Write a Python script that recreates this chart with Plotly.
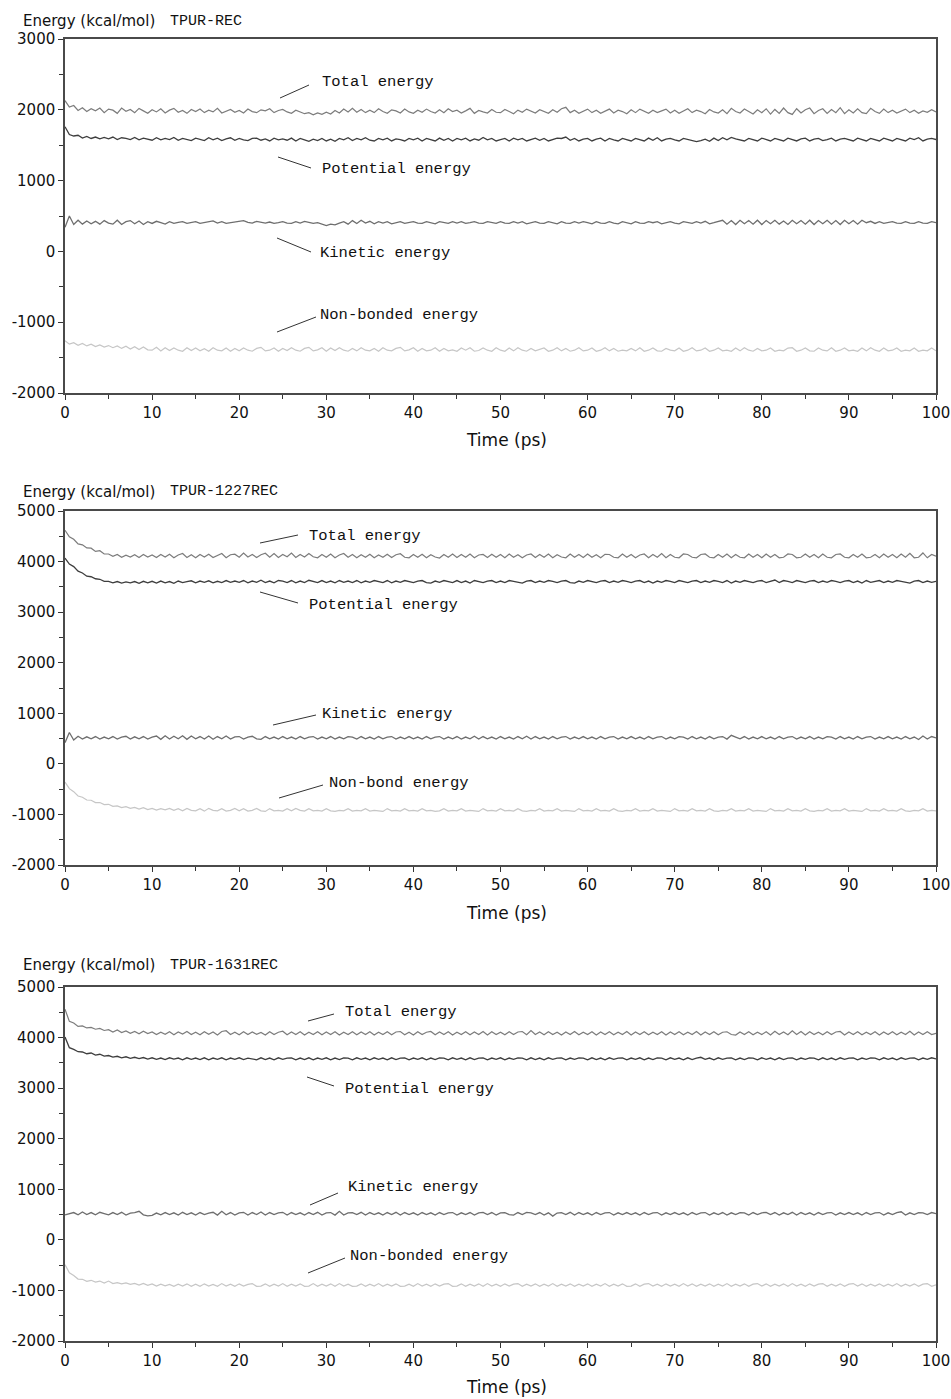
import numpy as np
import plotly.graph_objects as go

# ---------------- data ----------------
time_ps = np.arange(0, 100.5, 0.5)

panel_titles = ["TPUR-REC", "TPUR-1227REC", "TPUR-1631REC"]
series_names = ["Total energy", "Potential energy", "Kinetic energy", "Non-bonded energy"]
label_texts = [
    ["Total energy", "Potential energy", "Kinetic energy", "Non-bonded energy"],
    ["Total energy", "Potential energy", "Kinetic energy", "Non-bond energy"],
    ["Total energy", "Potential energy", "Kinetic energy", "Non-bonded energy"],
]
y_ranges = [[-2000, 3000], [-2000, 5000], [-2000, 5000]]
y_tickvals = [[-2000, -1000, 0, 1000, 2000, 3000],
              [-2000, -1000, 0, 1000, 2000, 3000, 4000, 5000],
              [-2000, -1000, 0, 1000, 2000, 3000, 4000, 5000]]
x_tickvals = [0, 10, 20, 30, 40, 50, 60, 70, 80, 90, 100]

rec_total = [
    2130, 2040, 2060, 1990, 2030, 1975, 2015, 1985, 2025, 1960,
    2010, 1995, 1950, 2025, 1980, 2005, 1960, 2020, 1985, 1950,
    2000, 1970, 2015, 1955, 1995, 2020, 1965, 1990, 1950, 2005,
    1975, 2010, 1960, 1995, 1970, 2020, 1955, 1985, 2005, 1965,
    1990, 1955, 2010, 1975, 1960, 2000, 1985, 2015, 1960, 1990,
    2005, 1970, 1950, 1995, 1975, 1945, 1960, 1930, 1955, 1935,
    1965, 1940, 1990, 1955, 2010, 1970, 2020, 1965, 2005, 1960,
    1995, 1960, 2015, 1975, 1950, 2000, 1985, 1955, 2010, 1970,
    1950, 1995, 1965, 2010, 1975, 1955, 2000, 1960, 2015, 1975,
    1995, 1955, 1985, 2020, 1950, 1990, 1970, 1955, 2005, 1965,
    1960, 2005, 1975, 1945, 1995, 1965, 2010, 1980, 1955, 2000,
    1975, 1950, 2000, 1965, 2015, 2035, 1960, 1995, 1950, 1985,
    2010, 1960, 1995, 1950, 1980, 2010, 1955, 1995, 1975, 1945,
    2000, 1960, 2010, 1975, 1950, 1995, 1960, 1985, 2010, 1955,
    1995, 1950, 1980, 2015, 1960, 1995, 1975, 1945, 2005, 1970,
    1955, 2000, 1945, 2020, 1975, 1955, 2010, 1980, 1940, 2000,
    1960, 2015, 1940, 2005, 1950, 2025, 1960, 1935, 2015, 1955,
    2000, 2025, 1945, 1990, 2015, 1950, 2005, 1960, 2030, 1945,
    2000, 1955, 2015, 1960, 1945, 2020, 1975, 1950, 2010, 1960,
    1995, 1955, 1985, 2010, 1960, 1995, 1950, 1985, 1965, 2000, 1970,
]
rec_potential = [
    1760, 1650, 1630, 1640, 1600, 1625, 1595, 1615, 1590, 1610,
    1590, 1615, 1580, 1605, 1595, 1580, 1610, 1575, 1600, 1585,
    1570, 1605, 1575, 1595, 1580, 1610, 1570, 1595, 1585, 1565,
    1600, 1580, 1565, 1605, 1575, 1600, 1565, 1590, 1605, 1570,
    1595, 1575, 1565, 1595, 1600, 1570, 1590, 1560, 1600, 1575,
    1590, 1570, 1600, 1560, 1595, 1575, 1555, 1585, 1565, 1595,
    1560, 1585, 1555, 1595, 1575, 1605, 1565, 1595, 1575, 1605,
    1570, 1560, 1595, 1575, 1600, 1560, 1590, 1580, 1560, 1595,
    1575, 1600, 1560, 1595, 1575, 1560, 1600, 1570, 1595, 1560,
    1595, 1575, 1600, 1560, 1590, 1570, 1610, 1575, 1595, 1560,
    1580, 1595, 1560, 1600, 1575, 1595, 1560, 1580, 1600, 1570,
    1595, 1560, 1580, 1600, 1595, 1615, 1570, 1595, 1560, 1585,
    1595, 1560, 1585, 1600, 1560, 1595, 1575, 1560, 1595, 1575,
    1560, 1595, 1575, 1560, 1600, 1570, 1605, 1560, 1585, 1595,
    1575, 1560, 1595, 1580, 1560, 1550, 1565, 1585, 1555, 1600,
    1565, 1605, 1575, 1610, 1590, 1570, 1560, 1595, 1575, 1560,
    1600, 1575, 1560, 1595, 1580, 1560, 1600, 1575, 1560, 1590,
    1600, 1560, 1585, 1595, 1565, 1580, 1600, 1560, 1585, 1595,
    1575, 1560, 1600, 1580, 1560, 1595, 1575, 1560, 1600, 1580,
    1560, 1595, 1575, 1560, 1600, 1580, 1605, 1560, 1585, 1595, 1580,
]
rec_kinetic = [
    340, 500, 380, 440, 385, 430, 390, 425, 385, 435,
    400, 385, 440, 380, 420, 435, 390, 430, 380, 420,
    395, 425, 405, 385, 420, 395, 410, 420, 395, 410,
    420, 395, 405, 420, 430, 400, 420, 395, 405, 420,
    425, 435, 410, 400, 425, 415, 400, 415, 395, 405,
    420, 400, 395, 420, 400, 425, 415, 395, 405, 385,
    365, 385, 375, 400, 420, 385, 435, 395, 440, 400,
    425, 390, 420, 400, 420, 390, 405, 420, 395, 405,
    420, 400, 395, 420, 400, 390, 420, 405, 395, 420,
    400, 420, 395, 405, 420, 400, 395, 420, 405, 395,
    420, 400, 395, 420, 400, 420, 390, 405, 420, 400,
    395, 420, 405, 390, 420, 400, 395, 420, 400, 420,
    405, 390, 420, 400, 395, 420, 400, 390, 420, 405,
    390, 420, 400, 395, 420, 405, 420, 390, 405, 420,
    400, 390, 420, 405, 395, 420, 400, 425, 390, 405,
    420, 440, 385, 435, 380, 440, 390, 435, 385, 440,
    380, 435, 390, 440, 385, 430, 380, 440, 390, 435,
    385, 440, 380, 435, 390, 440, 385, 435, 380, 440,
    390, 435, 385, 440, 405, 425, 395, 420, 395, 410,
    420, 400, 395, 420, 400, 395, 420, 400, 395, 420, 405,
]
rec_nonbonded = [
    -1260, -1310, -1290, -1325, -1300, -1335, -1310, -1345, -1320, -1350,
    -1330, -1360, -1335, -1370, -1340, -1380, -1345, -1385, -1350, -1390,
    -1395, -1355, -1405, -1360, -1400, -1365, -1395, -1410, -1360, -1400,
    -1365, -1405, -1375, -1410, -1360, -1395, -1405, -1365, -1410, -1370,
    -1405, -1365, -1395, -1410, -1370, -1355, -1405, -1395, -1365, -1410,
    -1370, -1400, -1360, -1395, -1410, -1370, -1355, -1405, -1390, -1360,
    -1410, -1365, -1400, -1360, -1395, -1410, -1370, -1405, -1360, -1395,
    -1405, -1370, -1410, -1360, -1395, -1405, -1370, -1355, -1405, -1390,
    -1360, -1410, -1370, -1405, -1395, -1360, -1410, -1370, -1405, -1390,
    -1410, -1365, -1395, -1360, -1410, -1400, -1365, -1395, -1410, -1360,
    -1395, -1410, -1365, -1405, -1360, -1395, -1410, -1370, -1405, -1390,
    -1365, -1410, -1395, -1360, -1405, -1370, -1410, -1395, -1360, -1405,
    -1395, -1365, -1410, -1395, -1360, -1405, -1370, -1410, -1395, -1405,
    -1370, -1405, -1360, -1410, -1395, -1365, -1405, -1410, -1370, -1395,
    -1405, -1365, -1410, -1395, -1360, -1405, -1395, -1365, -1410, -1395,
    -1365, -1405, -1395, -1410, -1365, -1405, -1360, -1395, -1410, -1370,
    -1405, -1395, -1365, -1410, -1395, -1405, -1365, -1360, -1410, -1395,
    -1365, -1405, -1410, -1365, -1395, -1405, -1360, -1410, -1395, -1365,
    -1405, -1395, -1410, -1365, -1405, -1360, -1395, -1410, -1365, -1405,
    -1395, -1365, -1410, -1395, -1405, -1365, -1410, -1395, -1405, -1365, -1405,
]

r1227_total = [
    4620, 4490, 4440, 4350, 4330, 4270, 4265, 4200, 4215, 4150,
    4150, 4105, 4140, 4085, 4125, 4090, 4135, 4080, 4140, 4090,
    4130, 4080, 4140, 4090, 4145, 4075, 4130, 4160, 4080, 4135,
    4075, 4140, 4090, 4145, 4080, 4125, 4160, 4075, 4135, 4145,
    4085, 4170, 4090, 4140, 4080, 4135, 4165, 4085, 4160, 4080,
    4140, 4095, 4170, 4080, 4140, 4090, 4160, 4095, 4075, 4140,
    4085, 4150, 4075, 4130, 4160, 4085, 4140, 4075, 4135, 4085,
    4145, 4075, 4130, 4085, 4145, 4080, 4135, 4155, 4085, 4075,
    4140, 4085, 4145, 4075, 4135, 4090, 4070, 4140, 4085, 4150,
    4080, 4140, 4085, 4150, 4075, 4130, 4140, 4080, 4145, 4085,
    4140, 4075, 4150, 4085, 4135, 4075, 4130, 4150, 4080, 4140,
    4085, 4150, 4075, 4135, 4090, 4075, 4150, 4085, 4140, 4080,
    4150, 4085, 4135, 4075, 4145, 4140, 4085, 4075, 4150, 4085,
    4140, 4075, 4130, 4150, 4075, 4140, 4085, 4160, 4075, 4140,
    4085, 4075, 4150, 4140, 4085, 4075, 4140, 4150, 4085, 4075,
    4140, 4085, 4150, 4075, 4140, 4085, 4075, 4150, 4085, 4140,
    4075, 4150, 4085, 4140, 4075, 4085, 4150, 4140, 4075, 4085,
    4150, 4085, 4140, 4075, 4150, 4085, 4075, 4140, 4150, 4085,
    4075, 4140, 4085, 4150, 4075, 4085, 4140, 4075, 4150, 4085,
    4140, 4075, 4150, 4085, 4165, 4075, 4085, 4170, 4075, 4140, 4105,
]
r1227_potential = [
    4070, 3950, 3900, 3810, 3775, 3710, 3700, 3660, 3650, 3610,
    3610, 3580, 3605, 3575, 3600, 3580, 3605, 3570, 3610, 3580,
    3610, 3575, 3615, 3580, 3605, 3570, 3615, 3585, 3605, 3620,
    3580, 3615, 3590, 3620, 3580, 3610, 3585, 3625, 3590, 3615,
    3590, 3625, 3580, 3615, 3590, 3630, 3585, 3615, 3580, 3625,
    3615, 3585, 3625, 3580, 3615, 3585, 3630, 3610, 3585, 3625,
    3585, 3615, 3580, 3625, 3590, 3615, 3585, 3625, 3580, 3615,
    3590, 3625, 3610, 3585, 3625, 3580, 3615, 3590, 3625, 3610,
    3585, 3615, 3625, 3585, 3575, 3615, 3590, 3625, 3610, 3585,
    3625, 3585, 3615, 3575, 3625, 3610, 3585, 3615, 3625, 3585,
    3615, 3585, 3625, 3610, 3585, 3575, 3615, 3625, 3585, 3615,
    3590, 3625, 3610, 3585, 3615, 3625, 3585, 3575, 3615, 3590,
    3625, 3610, 3585, 3615, 3625, 3585, 3615, 3590, 3625, 3610,
    3585, 3615, 3625, 3585, 3615, 3575, 3615, 3590, 3625, 3610,
    3585, 3625, 3610, 3585, 3615, 3625, 3585, 3615, 3590, 3625,
    3610, 3585, 3625, 3575, 3615, 3590, 3625, 3610, 3585, 3615,
    3625, 3585, 3615, 3635, 3585, 3625, 3610, 3585, 3625, 3610,
    3585, 3615, 3625, 3585, 3615, 3590, 3625, 3610, 3585, 3615,
    3625, 3585, 3615, 3575, 3625, 3590, 3615, 3625, 3585, 3615,
    3590, 3625, 3610, 3585, 3575, 3615, 3625, 3585, 3615, 3590, 3610,
]
r1227_kinetic = [
    420, 620, 470, 545, 490, 535, 495, 540, 490, 530,
    495, 540, 490, 530, 545, 490, 535, 495, 540, 490,
    530, 550, 485, 555, 490, 545, 495, 555, 485, 550,
    495, 540, 490, 550, 485, 540, 495, 550, 490, 535,
    540, 490, 530, 545, 495, 485, 540, 495, 530, 490,
    540, 495, 530, 490, 540, 495, 530, 540, 490, 530,
    495, 540, 490, 530, 495, 540, 530, 490, 540, 495,
    530, 490, 540, 495, 530, 540, 490, 530, 495, 540,
    495, 530, 490, 540, 495, 530, 540, 490, 530, 495,
    540, 490, 530, 495, 545, 490, 540, 495, 530, 490,
    540, 495, 530, 490, 540, 495, 545, 490, 540, 495,
    530, 490, 540, 495, 530, 540, 490, 530, 495, 540,
    495, 530, 490, 540, 495, 530, 540, 490, 530, 495,
    540, 495, 530, 490, 540, 495, 530, 540, 490, 530,
    495, 540, 530, 490, 540, 495, 530, 490, 540, 495,
    530, 540, 490, 565, 530, 495, 540, 490, 530, 495,
    540, 495, 530, 490, 540, 495, 530, 540, 490, 530,
    495, 540, 490, 530, 495, 540, 530, 490, 540, 495,
    530, 490, 540, 495, 530, 540, 490, 530, 495, 540,
    495, 530, 490, 540, 495, 530, 480, 550, 490, 540, 515,
]
r1227_nonbond = [
    -360, -490, -550, -635, -660, -715, -720, -765, -765, -805,
    -800, -840, -830, -865, -845, -880, -860, -895, -865, -905,
    -880, -915, -885, -910, -880, -920, -885, -930, -880, -920,
    -930, -885, -935, -880, -920, -930, -885, -935, -920, -880,
    -930, -885, -935, -920, -880, -930, -940, -885, -930, -920,
    -935, -885, -930, -880, -920, -935, -885, -930, -920, -935,
    -885, -930, -940, -920, -930, -885, -935, -920, -930, -885,
    -935, -920, -930, -940, -885, -930, -920, -935, -885, -930,
    -920, -935, -885, -930, -920, -940, -930, -885, -935, -920,
    -930, -885, -935, -920, -930, -940, -885, -930, -920, -935,
    -885, -930, -920, -935, -885, -930, -940, -920, -930, -885,
    -935, -920, -930, -885, -935, -920, -930, -940, -885, -930,
    -920, -935, -885, -930, -920, -935, -885, -930, -940, -920,
    -930, -885, -935, -920, -930, -885, -935, -920, -930, -940,
    -885, -930, -920, -935, -885, -930, -920, -935, -885, -930,
    -940, -920, -930, -885, -935, -920, -930, -885, -935, -920,
    -930, -940, -885, -930, -920, -935, -885, -930, -920, -935,
    -885, -930, -940, -920, -930, -885, -935, -920, -930, -885,
    -935, -920, -930, -940, -885, -930, -920, -935, -885, -930,
    -920, -935, -885, -930, -940, -920, -930, -885, -935, -920, -930,
]

r1631_total = [
    4560, 4320, 4290, 4220, 4230, 4190, 4200, 4165, 4180, 4140,
    4155, 4110, 4150, 4100, 4130, 4085, 4120, 4075, 4125, 4080,
    4110, 4060, 4105, 4065, 4115, 4055, 4110, 4070, 4120, 4060,
    4105, 4055, 4115, 4065, 4110, 4050, 4120, 4135, 4060, 4105,
    4055, 4115, 4060, 4110, 4065, 4100, 4050, 4115, 4060, 4105,
    4125, 4055, 4110, 4060, 4115, 4050, 4105, 4060, 4115, 4055,
    4110, 4060, 4115, 4050, 4105, 4060, 4115, 4055, 4110, 4060,
    4115, 4050, 4105, 4060, 4115, 4055, 4110, 4120, 4055, 4105,
    4050, 4115, 4060, 4105, 4120, 4055, 4110, 4060, 4115, 4050,
    4105, 4060, 4115, 4055, 4110, 4060, 4120, 4050, 4115, 4060,
    4105, 4055, 4115, 4060, 4110, 4120, 4055, 4140, 4060, 4110,
    4055, 4115, 4060, 4105, 4050, 4110, 4060, 4120, 4055, 4105,
    4060, 4115, 4050, 4110, 4060, 4115, 4055, 4105, 4060, 4120,
    4050, 4110, 4060, 4115, 4055, 4105, 4060, 4115, 4050, 4110,
    4060, 4115, 4055, 4105, 4060, 4120, 4050, 4110, 4060, 4115,
    4055, 4105, 4115, 4060, 4050, 4110, 4060, 4115, 4055, 4105,
    4060, 4115, 4050, 4125, 4060, 4110, 4055, 4135, 4060, 4120,
    4050, 4115, 4060, 4105, 4055, 4115, 4060, 4110, 4120, 4050,
    4110, 4060, 4115, 4055, 4105, 4060, 4115, 4050, 4110, 4060,
    4115, 4055, 4105, 4060, 4125, 4050, 4110, 4060, 4115, 4060, 4085,
]
r1631_potential = [
    4010, 3800, 3765, 3720, 3715, 3680, 3695, 3655, 3670, 3635,
    3645, 3615, 3630, 3600, 3620, 3590, 3610, 3585, 3605, 3575,
    3600, 3570, 3595, 3565, 3600, 3575, 3595, 3560, 3600, 3570,
    3595, 3565, 3600, 3560, 3595, 3570, 3600, 3560, 3595, 3570,
    3600, 3565, 3595, 3570, 3560, 3600, 3565, 3595, 3560, 3600,
    3570, 3595, 3600, 3560, 3595, 3565, 3600, 3560, 3595, 3570,
    3600, 3560, 3595, 3565, 3600, 3595, 3560, 3600, 3570, 3595,
    3560, 3600, 3570, 3595, 3560, 3600, 3565, 3595, 3600, 3560,
    3595, 3570, 3600, 3560, 3595, 3565, 3600, 3595, 3560, 3600,
    3570, 3595, 3560, 3600, 3565, 3595, 3600, 3560, 3595, 3570,
    3600, 3560, 3595, 3570, 3600, 3595, 3560, 3600, 3565, 3595,
    3560, 3600, 3570, 3595, 3600, 3560, 3595, 3570, 3600, 3595,
    3560, 3600, 3565, 3595, 3560, 3600, 3570, 3595, 3600, 3560,
    3595, 3570, 3600, 3560, 3595, 3565, 3600, 3595, 3560, 3600,
    3570, 3595, 3560, 3600, 3565, 3595, 3610, 3570, 3595, 3560,
    3600, 3570, 3595, 3600, 3560, 3595, 3565, 3600, 3595, 3560,
    3600, 3570, 3595, 3560, 3600, 3565, 3595, 3600, 3560, 3595,
    3570, 3600, 3595, 3560, 3600, 3565, 3595, 3560, 3600, 3570,
    3595, 3600, 3560, 3595, 3570, 3600, 3595, 3560, 3600, 3570,
    3595, 3560, 3600, 3570, 3595, 3600, 3560, 3595, 3570, 3600, 3580,
]
r1631_kinetic = [
    495, 525, 540, 495, 550, 500, 540, 495, 545, 520,
    495, 540, 500, 545, 490, 530, 540, 565, 495, 475,
    485, 530, 495, 540, 500, 535, 490, 545, 500, 535,
    490, 540, 500, 530, 545, 490, 565, 495, 540, 490,
    535, 545, 490, 540, 500, 550, 490, 540, 500, 535,
    545, 490, 540, 500, 535, 490, 540, 500, 545, 490,
    535, 540, 490, 565, 490, 535, 540, 500, 545, 490,
    540, 500, 535, 490, 540, 500, 545, 490, 540, 500,
    535, 490, 540, 500, 535, 490, 540, 500, 535, 540,
    490, 535, 500, 540, 490, 535, 545, 500, 540, 490,
    535, 540, 500, 490, 540, 500, 545, 535, 500, 540,
    490, 535, 470, 530, 540, 500, 545, 490, 540, 500,
    535, 490, 540, 500, 535, 540, 490, 535, 500, 540,
    500, 535, 490, 540, 500, 535, 540, 490, 535, 500,
    540, 500, 535, 490, 540, 500, 535, 540, 490, 535,
    500, 540, 490, 535, 500, 540, 535, 490, 540, 500,
    535, 545, 500, 540, 490, 535, 500, 545, 490, 540,
    500, 535, 490, 540, 500, 535, 540, 490, 535, 500,
    540, 500, 535, 490, 540, 500, 535, 540, 490, 535,
    500, 540, 555, 490, 535, 500, 540, 535, 500, 540, 520,
]
r1631_nonbonded = [
    -490, -650, -705, -775, -780, -820, -800, -835, -815, -855,
    -815, -865, -845, -870, -850, -880, -860, -895, -860, -900,
    -870, -915, -875, -910, -880, -920, -875, -915, -870, -920,
    -875, -920, -870, -915, -880, -920, -865, -915, -875, -920,
    -870, -915, -880, -865, -920, -915, -870, -920, -875, -915,
    -865, -920, -875, -915, -870, -920, -915, -865, -920, -875,
    -915, -870, -920, -865, -915, -875, -920, -915, -870, -920,
    -875, -915, -865, -920, -875, -915, -870, -920, -915, -875,
    -920, -865, -915, -875, -920, -870, -915, -875, -865, -920,
    -915, -870, -920, -875, -915, -870, -920, -865, -915, -875,
    -920, -870, -915, -875, -865, -920, -875, -915, -870, -920,
    -875, -915, -865, -920, -875, -915, -870, -920, -875, -915,
    -870, -920, -875, -915, -865, -920, -875, -915, -870, -920,
    -915, -870, -920, -875, -865, -915, -875, -920, -870, -915,
    -875, -920, -865, -915, -870, -920, -875, -915, -870, -920,
    -875, -915, -865, -920, -875, -915, -870, -920, -875, -865,
    -915, -870, -920, -875, -915, -870, -920, -865, -915, -875,
    -920, -870, -915, -875, -865, -920, -875, -915, -870, -920,
    -875, -865, -915, -870, -920, -875, -915, -870, -920, -875,
    -915, -865, -920, -875, -915, -870, -920, -875, -865, -920, -890,
]

panels_data = [
    [rec_total, rec_potential, rec_kinetic, rec_nonbonded],
    [r1227_total, r1227_potential, r1227_kinetic, r1227_nonbond],
    [r1631_total, r1631_potential, r1631_kinetic, r1631_nonbonded],
]

# ---------------- layout helpers (pixel geometry) ----------------
W, H = 951, 1399
px_x = lambda p: p / W
px_y = lambda p: 1 - p / H

series_colors = ["#7c7c7c", "#3e3e3e", "#6e6e6e", "#c6c6c6"]
series_widths = [1.2, 1.3, 1.3, 1.2]

plot_left, plot_right = 65, 936
panel_px = [(39, 393), (511, 865), (987, 1341)]   # (top, bottom)
title_py = [21, 492, 965]
timelabel_py = [440, 913, 1387]

label_pos = [
    [(320, 82), (320, 169), (318, 253), (318, 315)],
    [(307, 536), (307, 605), (320, 714), (327, 783)],
    [(343, 1012), (343, 1089), (346, 1187), (348, 1256)],
]
leader_lines = [
    [((280, 98), (309, 85)), ((278, 157), (311, 168)), ((277, 238), (311, 252)), ((277, 332), (316, 317))],
    [((260, 543), (298, 535)), ((260, 592), (298, 603)), ((273, 725), (316, 715)), ((279, 798), (323, 785))],
    [((308, 1021), (334, 1014)), ((307, 1077), (334, 1086)), ((310, 1205), (338, 1193)), ((308, 1273), (345, 1258))],
]

sans = "DejaVu Sans"
mono = "Liberation Mono"

fig = go.Figure()
annotations = []
shapes = []

for i in range(3):
    sfx = "" if i == 0 else str(i + 1)
    xa, ya = "x" + sfx, "y" + sfx
    for j in range(4):
        fig.add_trace(go.Scatter(
            x=time_ps, y=panels_data[i][j], mode="lines",
            name=series_names[j], xaxis=xa, yaxis=ya,
            line=dict(color=series_colors[j], width=series_widths[j]),
            showlegend=False, hoverinfo="x+y",
        ))
    top, bot = panel_px[i]
    axis_common = dict(
        showline=True, linecolor="#4a4a4a", linewidth=1.5, mirror=True,
        showgrid=False, zeroline=False, ticks="outside", ticklen=5,
        tickcolor="#333", tickwidth=1.3, automargin=False,
        tickfont=dict(family=sans, size=15, color="#111"),
    )
    fig.update_layout(**{
        "xaxis" + sfx: dict(
            domain=[px_x(plot_left), px_x(plot_right)], anchor=ya,
            range=[0, 100], tickmode="array", tickvals=x_tickvals,
            ticktext=[str(v) for v in x_tickvals],
            minor=dict(dtick=5, tick0=0, ticks="outside", ticklen=4, tickcolor="#333", tickwidth=1.3),
            **axis_common),
        "yaxis" + sfx: dict(
            domain=[px_y(bot), px_y(top)], anchor=xa,
            range=y_ranges[i], tickmode="array", tickvals=y_tickvals[i],
            ticktext=[str(v) for v in y_tickvals[i]],
            minor=dict(dtick=500, tick0=0, ticks="outside", ticklen=4, tickcolor="#333", tickwidth=1.3),
            **axis_common),
    })
    annotations.append(dict(text="Energy (kcal/mol)", x=px_x(21), y=px_y(title_py[i]),
                            xref="paper", yref="paper", xanchor="left", yanchor="middle",
                            showarrow=False, font=dict(family=sans, size=15, color="#111")))
    annotations.append(dict(text=panel_titles[i], x=px_x(168), y=px_y(title_py[i]),
                            xref="paper", yref="paper", xanchor="left", yanchor="middle",
                            showarrow=False, font=dict(family=mono, size=15, color="#111")))
    annotations.append(dict(text="Time (ps)", x=px_x(506), y=px_y(timelabel_py[i]),
                            xref="paper", yref="paper", xanchor="center", yanchor="middle",
                            showarrow=False, font=dict(family=sans, size=17, color="#111")))
    for j in range(4):
        lx, ly = label_pos[i][j]
        annotations.append(dict(text=label_texts[i][j], x=px_x(lx), y=px_y(ly),
                                xref="paper", yref="paper", xanchor="left", yanchor="middle",
                                showarrow=False, font=dict(family=mono, size=15.5, color="#111")))
        (x0, y0), (x1, y1) = leader_lines[i][j]
        shapes.append(dict(type="line", xref="paper", yref="paper",
                           x0=px_x(x0), y0=px_y(y0), x1=px_x(x1), y1=px_y(y1),
                           line=dict(color="#333", width=1)))

fig.update_layout(
    width=W, height=H,
    margin=dict(l=0, r=0, t=0, b=0, autoexpand=False),
    paper_bgcolor="white", plot_bgcolor="white",
    annotations=annotations, shapes=shapes,
    showlegend=False,
)

fig.write_html(
    "out.html",
    config={"displayModeBar": False},
    post_script="document.body.style.margin='0';document.body.style.overflow='hidden';",
)
